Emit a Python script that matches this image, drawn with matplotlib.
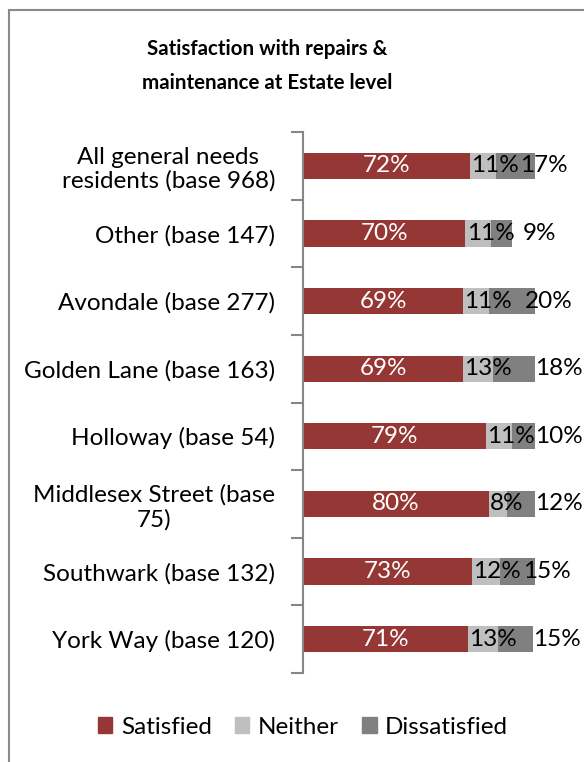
import matplotlib
matplotlib.use("Agg")
import matplotlib.pyplot as plt
from matplotlib.patches import Rectangle, Patch
import numpy as np

plt.rcParams['font.family'] = ['Lato', 'DejaVu Sans']

categories = ["All general needs\nresidents (base 968)", "Other (base 147)", "Avondale (base 277)",
              "Golden Lane (base 163)", "Holloway (base 54)", "Middlesex Street (base\n75)",
              "Southwark (base 132)", "York Way (base 120)"]
satisfied = [72, 70, 69, 69, 79, 80, 73, 71]
neither = [11, 11, 11, 13, 11, 8, 12, 13]
dissatisfied = [17, 9, 20, 18, 10, 12, 15, 15]
# label shifts (percentage points) for the dissatisfied labels, relative to bar end
dis_shift = [-6.5, 4.8, -4.3, 0, 0, 0, -5.2, 0]

c_sat, c_nei, c_dis = "#953735", "#BFBFBF", "#808080"

W, H = 584, 762
fig = plt.figure(figsize=(W / 100, H / 100), dpi=100)

# chart border (cropped at right and bottom)
fig.patches.append(Rectangle((9 / W, -0.1), 1.2, (H - 10) / H + 0.1, transform=fig.transFigure,
                             fill=False, edgecolor="#8a8a8a", linewidth=1.5))

ax = fig.add_axes([303 / W, (H - 673) / H, (535 - 303) / W, (673 - 132) / H])
y = np.arange(len(categories))
sat = np.array(satisfied) / 100
nei = np.array(neither) / 100
dis = np.array(dissatisfied) / 100
h = 0.39
ax.barh(y, sat, height=h, color=c_sat, label="Satisfied")
ax.barh(y, nei, left=sat, height=h, color=c_nei, label="Neither")
ax.barh(y, dis, left=sat + nei, height=h, color=c_dis, label="Dissatisfied")

fs = 17.5
for i in range(len(categories)):
    ax.text(sat[i] / 2, y[i], f"{satisfied[i]}%", ha="center", va="center", color="white", fontsize=fs)
    ax.text(sat[i] + 0.005, y[i], f"{neither[i]}%", ha="left", va="center", color="black", fontsize=fs)
    ax.text(sat[i] + nei[i] + dis[i] + dis_shift[i] / 100, y[i], f"{dissatisfied[i]}%",
            ha="left", va="center", color="black", fontsize=fs)

ax.set_xlim(0, 1)
ax.set_ylim(len(categories) - 0.5, -0.5)
for s in ["top", "right", "bottom"]:
    ax.spines[s].set_visible(False)
ax.spines["left"].set_color("#868686")
ax.spines["left"].set_linewidth(1.5)
ax.set_xticks([])
ax.set_yticks(np.arange(len(categories) + 1) - 0.5)
ax.set_yticklabels([])
ax.tick_params(axis="y", which="major", length=9, width=1.5, color="#868686")
ax.set_yticks(y, minor=True)
ax.set_yticklabels(categories, minor=True, fontsize=fs, ma="center", linespacing=1.15)
ax.tick_params(axis="y", which="minor", length=0, pad=20)

fig.text(267 / W, 1 - 66 / H, "Satisfaction with repairs &\nmaintenance at Estate level",
         ha="center", va="center", fontsize=14.8, fontweight="bold", linespacing=1.85)

handles = [Patch(color=c_sat), Patch(color=c_nei), Patch(color=c_dis)]
fig.legend(handles, ["Satisfied", "Neither", "Dissatisfied"], loc="center",
           bbox_to_anchor=(303 / W, 1 - 727 / H), ncol=3, frameon=False, fontsize=fs,
           handlelength=0.6, handleheight=0.6, handletextpad=0.35, columnspacing=0.95)

fig.savefig("out.png", dpi=100)
